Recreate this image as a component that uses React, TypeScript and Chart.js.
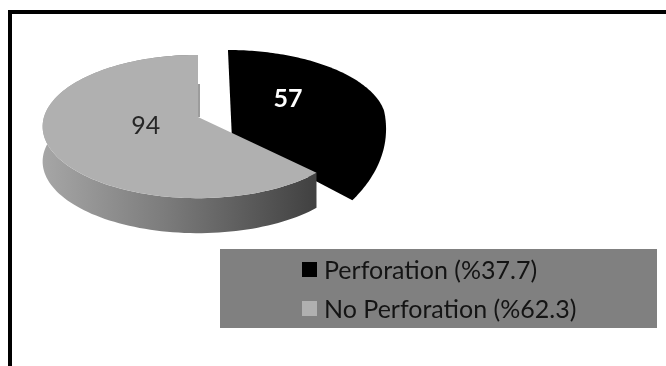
import React, { useEffect, useRef } from "react";
import { Chart, registerables } from "chart.js";

Chart.register(...registerables);

const categories = ["Perforation (%37.7)", "No Perforation (%62.3)"];
const counts = [57, 94];
const sliceColors = ["#000000", "#b0b0b0"];
const labelColors = ["#ffffff", "#262626"];
const labelWeights = ["bold", "normal"];
const labelFractions = [0.41, 0.36];

const FONT = "Lato, 'Open Sans', sans-serif";
const SQUASH = 0.457; // vertical foreshortening of the disc
const KEYSTONE = 0.133; // nearer edge of the disc appears larger
const DEPTH = 35; // height of the extruded side wall

type Pt = [number, number];

// Projects a point on the tilted disc (unit coordinates, v towards the viewer).
function project(el: any, u: number, v: number): Pt {
  const w = 1 - KEYSTONE * v;
  return [el.x + (el.outerRadius * u) / w, el.y + (SQUASH * el.outerRadius * v) / w];
}

function sliceOffset(el: any, offset: number): Pt {
  const mid = (el.startAngle + el.endAngle) / 2;
  const d = offset / el.outerRadius;
  return [Math.cos(mid) * d, Math.sin(mid) * d];
}

function rimAngles(el: any): number[] {
  const out: number[] = [];
  const steps = 120;
  for (let i = 0; i <= steps; i++) {
    out.push(el.startAngle + ((el.endAngle - el.startAngle) * i) / steps);
  }
  return out;
}

function tracePolygon(ctx: CanvasRenderingContext2D, pts: Pt[]) {
  ctx.beginPath();
  pts.forEach((p, i) => (i ? ctx.lineTo(p[0], p[1]) : ctx.moveTo(p[0], p[1])));
  ctx.closePath();
}

const tiltedPie = {
  id: "tiltedPie",
  beforeDatasetDraw(chart: any) {
    const ctx: CanvasRenderingContext2D = chart.ctx;
    const arcs = chart.getDatasetMeta(0).data;
    arcs.forEach((el: any, i: number) => {
      const off = sliceOffset(el, el.options.offset || 0);
      const angles = rimAngles(el);
      const rim = angles.map((a) => project(el, off[0] + Math.cos(a), off[1] + Math.sin(a)));
      const apex = project(el, off[0], off[1]);

      if (i === 0) {
        // the exploded slice is solid black, so its wall merges into one silhouette
        const outline = rim.map((p, k) => {
          const a = angles[k];
          const t = a > 0 ? a / el.endAngle : 0;
          return [p[0], p[1] + DEPTH * t] as Pt;
        });
        tracePolygon(ctx, [[apex[0], apex[1] + DEPTH * 0.75], ...outline]);
        ctx.fillStyle = el.options.backgroundColor;
        ctx.fill();
        return;
      }

      // side wall, darkening towards the right
      tracePolygon(ctx, [...rim, ...rim.slice().reverse().map((p) => [p[0], p[1] + DEPTH] as Pt)]);
      const g = ctx.createLinearGradient(43, 0, 312, 0);
      g.addColorStop(0, "#a6a6a6");
      g.addColorStop(0.45, "#7c7c7c");
      g.addColorStop(1, "#424242");
      ctx.fillStyle = g;
      ctx.fill();

      // cut face seen edge-on along the back of the slice
      ctx.strokeStyle = "#9c9c9c";
      ctx.lineWidth = 2;
      ctx.beginPath();
      ctx.moveTo(apex[0] + 1, apex[1]);
      ctx.lineTo(apex[0] + 1, rim[rim.length - 1][1] + DEPTH - 6);
      ctx.stroke();

      // top surface
      tracePolygon(ctx, [apex, ...rim]);
      ctx.fillStyle = el.options.backgroundColor;
      ctx.fill();
    });

    arcs.forEach((el: any, i: number) => {
      const off = sliceOffset(el, el.options.offset || 0);
      const mid = (el.startAngle + el.endAngle) / 2;
      const f = labelFractions[i];
      const p = project(el, off[0] + f * Math.cos(mid), off[1] + f * Math.sin(mid));
      ctx.font = `${labelWeights[i]} 25px ${FONT}`;
      ctx.fillStyle = labelColors[i];
      ctx.textAlign = "center";
      ctx.textBaseline = "middle";
      ctx.fillText(String(counts[i]), p[0], p[1] - 1);
    });
    return false;
  },
};

const frameAndKey = {
  id: "frameAndKey",
  beforeDraw(chart: any) {
    const ctx: CanvasRenderingContext2D = chart.ctx;
    ctx.save();
    ctx.fillStyle = "#ffffff";
    ctx.fillRect(0, 0, chart.width, chart.height);
    ctx.fillStyle = "#000000";
    ctx.fillRect(8, 10, chart.width - 8, 4);
    ctx.fillRect(8, 10, 4, chart.height - 10);
    ctx.restore();
  },
  afterDraw(chart: any) {
    const ctx: CanvasRenderingContext2D = chart.ctx;
    ctx.save();
    ctx.fillStyle = "#808080";
    ctx.fillRect(220, 249, 437, 79);
    ctx.font = `25px ${FONT}`;
    ctx.textAlign = "left";
    ctx.textBaseline = "alphabetic";
    categories.forEach((label, i) => {
      const rowY = 262 + i * 39;
      ctx.fillStyle = sliceColors[i];
      ctx.fillRect(302, rowY, 15, 15);
      ctx.fillStyle = "#141414";
      ctx.fillText(label, 324, rowY + 17);
    });
    ctx.restore();
  },
};

export default function App() {
  const ref = useRef<HTMLCanvasElement>(null);
  useEffect(() => {
    const chart = new Chart(ref.current!, {
      type: "pie",
      data: {
        labels: categories,
        datasets: [
          {
            data: counts,
            backgroundColor: sliceColors,
            borderWidth: 0,
            offset: [37, 0],
          },
        ],
      },
      options: {
        animation: false,
        responsive: false,
        radius: 154,
        layout: { padding: { left: 0, top: 0, right: 270, bottom: 132 } },
        plugins: { legend: { display: false }, tooltip: { enabled: false } },
      } as any,
      plugins: [tiltedPie, frameAndKey],
    });
    return () => chart.destroy();
  }, []);
  return (
    <canvas
      ref={ref}
      width={666}
      height={366}
      style={{ position: "absolute", left: 0, top: 0, display: "block" }}
    />
  );
}
